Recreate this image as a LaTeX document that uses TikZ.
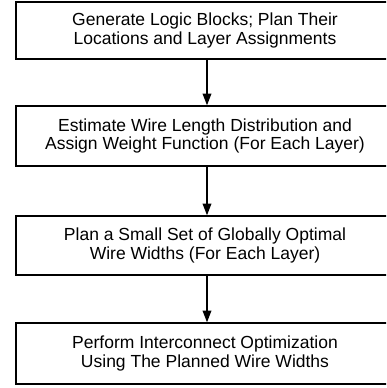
\documentclass[tikz,border=0pt]{standalone}
\usepackage{fontspec}
\setmainfont{Liberation Sans}
\usetikzlibrary{arrows.meta}
\begin{document}
\begin{tikzpicture}[x=1pt,y=-1pt,
  stepbox/.style={draw=black, line width=2pt, minimum width=378pt, align=center,
    inner sep=0pt, font=\fontsize{17.5}{18.8}\selectfont},
  flow/.style={line width=2pt, -{Triangle[length=12pt,width=8.5pt]}, shorten >=-0.5pt}]
  \useasboundingbox (0,0) rectangle (386,388);
  \clip (0,0) rectangle (386,388);
  \node[stepbox, minimum height=57pt] (b1) at (205,30.5)
    {Generate Logic Blocks; Plan Their\\Locations and Layer Assignments};
  \node[stepbox, minimum height=60pt] (b2) at (205,136)
    {Estimate Wire Length Distribution and\\Assign Weight Function (For Each Layer)};
  \node[stepbox, minimum height=59pt] (b3) at (205,245.5)
    {Plan a Small Set of Globally Optimal\\Wire Widths (For Each Layer)};
  \node[stepbox, minimum height=61pt] (b4) at (205,353.5)
    {Perform Interconnect Optimization\\Using The Planned Wire Widths};
  \coordinate (ax) at (207,0);
  \draw[flow] (b1.south -| ax) -- (b2.north -| ax);
  \draw[flow] (b2.south -| ax) -- (b3.north -| ax);
  \draw[flow] (b3.south -| ax) -- (b4.north -| ax);
\end{tikzpicture}
\end{document}
